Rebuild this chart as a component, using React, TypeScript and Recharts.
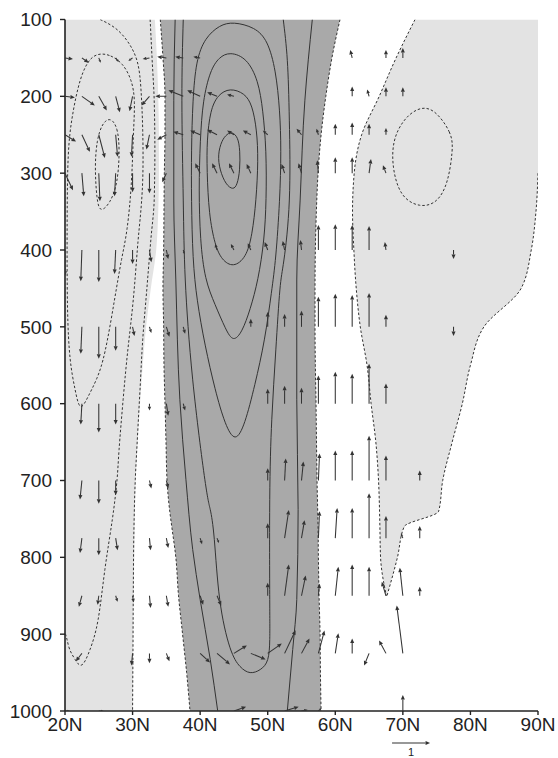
import React from 'react';
import { ComposedChart, Area, Scatter, XAxis, YAxis } from 'recharts';

// ---------- axes ----------
const latTicks = [20, 30, 40, 50, 60, 70, 80, 90];
const latLabels = ['20N', '30N', '40N', '50N', '60N', '70N', '80N', '90N'];
const pTicks = [100, 200, 300, 400, 500, 600, 700, 800, 900, 1000];

// ---------- shaded regions (lat edges at each pressure level) ----------
const levels = [100, 150, 200, 250, 300, 350, 400, 450, 500, 550, 600, 650, 700, 740, 760, 800, 850, 900, 950, 1000];
const westBandEdge = [33.3, 33.6, 33.8, 33.9, 33.9, 33.8, 33.5, 32.7, 32.0, 31.5, 31.1, 30.75, 30.45, 30.35, 30.3, 30.25, 30.15, 30.1, 30.05, 30.02];
const coreWest = [34.1, 34.5, 34.8, 34.8, 34.7, 34.65, 34.6, 34.5, 34.6, 34.65, 34.8, 34.95, 35.1, 35.5, 35.8, 36.4, 36.8, 37.4, 38.0, 38.5];
const coreEast = [60.7, 59.5, 58.6, 57.9, 57.45, 57.2, 57.05, 57.0, 57.0, 57.05, 57.15, 57.22, 57.3, 57.4, 57.45, 57.5, 57.6, 57.75, 57.8, 57.9];
const eastBandWest = [71.8, 69.0, 66.5, 63.9, 62.8, 62.55, 62.75, 63.1, 63.7, 64.7, 65.3, 66.0, 66.4, 66.55, 66.6, 66.7, 67.55, null, null, null];
const eastBandEast = [90, 90, 90, 90, 90, 89.7, 89.0, 87.5, 82.0, 80.0, 78.8, 77.3, 75.9, 75.3, 70.2, 69.2, 67.65, null, null, null];

// ---------- contour lines [lat, p] ----------
const negInner = [[26.7, 227], [27.8, 240], [28.1, 270], [27.8, 313], [26.7, 339], [25.2, 352], [24.7, 335], [24.4, 292], [24.7, 257], [25.5, 235]];
const negMid = [[25.2, 144], [26.7, 146], [28.6, 157], [29.9, 179], [30.4, 205], [30.1, 248], [29.9, 313], [29.2, 378], [28.4, 409], [27.4, 461], [25.9, 539], [24.7, 569], [23.4, 591], [22.2, 612], [21.5, 582], [20.7, 547], [20.3, 482], [20.3, 357], [20.4, 270], [21.0, 227], [22.2, 175], [23.7, 149]];
const negOuter = [[25.2, 100], [27.4, 111], [29.3, 129], [30.7, 155], [31.25, 192], [31.5, 244], [31.5, 309], [31.1, 361], [30.7, 400], [30.1, 465], [29.3, 530], [28.6, 595], [28.0, 660], [27.7, 699], [27.0, 751], [25.9, 816], [24.9, 881], [23.7, 920], [22.5, 940], [21.5, 933], [20.7, 920], [20.3, 907], [20.0, 898]];
const negEdge = [[32.6, 100], [32.9, 153], [33.2, 205], [33.3, 270], [33.2, 335], [32.7, 387], [32.1, 452], [31.5, 517], [31.1, 582], [30.7, 647], [30.4, 699], [30.2, 764], [30.1, 855], [30.05, 933], [30.0, 1000]];
const posC1 = [[44.7, 246], [45.6, 253], [45.9, 270], [45.9, 296], [45.5, 315], [44.9, 322], [43.8, 315], [42.9, 296], [42.6, 276], [43.2, 257], [44.0, 249]];
const posC2 = [[44.4, 189], [46.6, 196], [47.7, 211], [48.4, 244], [48.6, 283], [48.3, 335], [47.7, 381], [46.8, 410], [44.9, 423], [43.2, 413], [42.2, 394], [41.3, 354], [41.0, 296], [41.0, 257], [41.5, 218], [42.6, 198]];
const posC3 = [[44.4, 142], [46.9, 150], [48.6, 179], [49.3, 218], [49.8, 270], [49.8, 335], [49.5, 387], [48.6, 439], [47.4, 478], [46.2, 507], [44.9, 520], [43.8, 504], [42.2, 471], [40.7, 439], [40.0, 387], [39.8, 322], [40.0, 257], [40.4, 205], [41.5, 166], [42.8, 149]];
const posC4 = [[44.9, 103], [48.1, 110], [50.0, 127], [51.2, 166], [51.8, 218], [52.0, 270], [51.8, 335], [51.2, 413], [50.6, 452], [49.6, 517], [48.1, 576], [46.6, 628], [45.2, 651], [43.7, 628], [42.2, 582], [40.7, 524], [39.5, 465], [38.9, 413], [38.7, 335], [38.7, 270], [38.9, 205], [39.4, 153], [40.7, 124], [42.9, 107]];
const posC5 = [[37.5, 100], [37.3, 205], [37.5, 335], [37.8, 439], [38.9, 569], [40.7, 699], [41.5, 738], [42.1, 777], [42.9, 855], [44.4, 917], [45.9, 942], [47.4, 950], [48.9, 946], [50.0, 933], [50.3, 907], [50.3, 855], [50.3, 725], [50.6, 621], [51.2, 530], [51.8, 452], [52.4, 413], [53.2, 335], [53.2, 231], [52.9, 153], [52.3, 100]];
const posC6West = [[36.3, 100], [36.1, 205], [36.1, 335], [36.4, 439], [37.0, 595], [37.9, 699], [38.9, 790], [40.0, 855], [41.5, 933], [42.6, 1000]];
const posC6East = [[56.6, 100], [55.5, 205], [54.8, 335], [54.3, 439], [54.3, 595], [54.5, 738], [54.3, 855], [53.7, 920], [52.9, 1000]];
const eastInner = [[74.5, 214], [77.3, 248], [77.4, 270], [76.7, 313], [75.1, 339], [72.5, 345], [69.6, 331], [68.4, 292], [68.5, 257], [70.0, 231], [72.1, 215]];

// ---------- vectors [lat, u, v] per level (units of reference vector) ----------
const w150 = [[20, 0.21, -0.03], [22.5, 0.18, -0.13], [25, 0.05, -0.13], [27.5, 0.08, -0.11], [30, -0.11, -0.08], [32.5, -0.18, -0.03], [35, -0.24, 0.03], [37.5, -0.21, 0.03], [40, -0.18, 0.03], [62.5, -0.05, 0.21], [67.5, 0, 0.21], [70, 0, 0.26]];
const w200 = [[20, 0.26, -0.03], [22.5, 0.34, -0.24], [25, 0.21, -0.37], [27.5, 0.11, -0.42], [30, -0.08, -0.39], [32.5, -0.21, -0.24], [35, -0.29, 0], [37.5, -0.39, 0.16], [40, -0.34, 0.16], [42.5, -0.26, 0.11], [45, -0.18, 0.05], [62.5, 0, 0.26], [65, -0.05, 0.18], [67.5, 0, 0.24], [70, 0, 0.24]];
const w250 = [[20, 0.29, -0.18], [22.5, 0.21, -0.45], [25, 0.16, -0.61], [27.5, 0.05, -0.58], [30, -0.03, -0.58], [32.5, -0.08, -0.39], [35, -0.24, -0.13], [37.5, -0.26, 0.08], [40, -0.26, 0.11], [42.5, -0.26, 0.13], [45, -0.18, 0.11], [47.5, -0.21, 0.11], [50, -0.13, 0.11], [55, -0.13, 0.16], [57.5, -0.05, 0.16], [60, 0, 0.29], [62.5, 0, 0.32], [65, 0, 0.29], [67.5, 0, 0.18]];
const w300 = [[20, 0.21, -0.45], [22.5, 0.05, -0.61], [25, 0.03, -0.74], [27.5, -0.03, -0.61], [30, 0, -0.5], [32.5, 0, -0.53], [35, -0.11, -0.24], [40, -0.13, 0.26], [42.5, -0.13, 0.26], [45, -0.13, 0.26], [47.5, -0.11, 0.24], [52.5, -0.08, 0.24], [55, -0.08, 0.26], [57.5, -0.03, 0.34], [60, 0, 0.42], [62.5, 0, 0.42], [65, 0.05, 0.37], [67.5, -0.08, 0.21]];
const w400 = [[20, 0, -0.68], [22.5, -0.03, -0.82], [25, 0, -0.84], [27.5, -0.03, -0.63], [30, 0, -0.37], [32.5, 0.05, -0.32], [35, 0.05, -0.24], [37.5, 0.03, -0.11], [42.5, -0.05, 0.16], [45, -0.08, 0.16], [47.5, -0.08, 0.18], [50, -0.08, 0.21], [52.5, -0.05, 0.24], [55, -0.03, 0.26], [57.5, 0, 0.66], [60, 0, 0.68], [62.5, 0, 0.66], [65, 0, 0.63], [67.5, -0.03, 0.21], [77.5, 0, -0.24]];
const w500 = [[22.5, -0.03, -0.71], [25, 0, -0.84], [27.5, 0, -0.63], [30, 0.05, -0.24], [32.5, 0.05, -0.16], [35, 0.08, -0.26], [37.5, 0.05, -0.18], [47.5, 0, 0.21], [50, 0, 0.39], [52.5, 0, 0.34], [55, 0, 0.42], [57.5, 0, 0.79], [60, 0, 0.87], [62.5, 0, 0.84], [65, 0, 0.89], [67.5, 0, 0.32], [77.5, 0, -0.24]];
const w600 = [[22.5, -0.03, -0.55], [25, 0, -0.76], [27.5, 0, -0.55], [32.5, 0, -0.18], [35, 0.05, -0.32], [37.5, 0.05, -0.18], [50, 0, 0.39], [52.5, 0, 0.47], [55, 0, 0.42], [57.5, 0, 0.74], [60, 0, 0.84], [62.5, 0, 0.79], [65, 0, 1.05], [67.5, 0, 0.53]];
const w700 = [[22.5, -0.05, -0.5], [25, 0, -0.61], [27.5, 0, -0.39], [32.5, 0.05, -0.21], [35, 0.05, -0.21], [50, 0, 0.32], [52.5, 0.03, 0.58], [55, 0.05, 0.5], [57.5, 0.03, 0.71], [60, 0, 0.79], [62.5, 0, 0.79], [65, 0, 1.18], [67.5, 0, 0.66], [72.5, 0, 0.26]];
const w775 = [[22.5, -0.05, -0.39], [25, 0, -0.45], [27.5, 0.05, -0.32], [32.5, 0.03, -0.32], [35, 0.05, -0.26], [40, 0.05, -0.16], [42.5, 0.05, -0.13], [50, 0, 0.39], [52.5, 0.11, 0.74], [55, 0.08, 0.47], [57.5, 0.03, 0.71], [60, 0.05, 0.79], [62.5, 0, 0.79], [65, 0, 1.18], [67.5, 0, 0.58], [70, -0.05, 0.13], [72.5, 0, 0.32]];
const w850 = [[22.5, -0.08, -0.29], [25, -0.03, -0.24], [27.5, 0.05, -0.16], [30, 0.03, -0.18], [32.5, 0.03, -0.32], [35, 0.05, -0.29], [40, 0.08, -0.24], [42.5, 0.11, -0.26], [50, 0, 0.34], [52.5, 0.11, 0.82], [55, 0.11, 0.53], [57.5, 0.03, 0.32], [60, 0.08, 0.76], [62.5, 0, 0.82], [65, 0, 0.76], [67.5, -0.11, 0.37], [70, -0.08, 0.74], [72.5, 0, 0.24]];
const w925 = [[22.5, -0.16, -0.21], [30, -0.03, -0.32], [32.5, 0, -0.26], [35, 0.08, -0.21], [40, 0.26, -0.24], [42.5, 0.34, -0.29], [45, 0.34, 0.21], [47.5, 0.39, -0.16], [50, 0.37, 0.26], [52.5, 0.29, 0.61], [55, 0.21, 0.39], [57.5, 0.16, 0.6], [60, 0.08, 0.53], [62.5, 0, 0.39], [65, -0.13, -0.32], [67.5, -0.18, 0.34], [70, -0.16, 1.26]];
const w1000 = [[20, 0.13, 0], [25, 0.13, 0], [45, 0.32, 0.11], [52.5, 0.37, 0.11], [55, 0.16, 0.03], [57.5, 0.08, 0.08], [70, 0, 0.42]];

const vectorRows: [number, number[][]][] = [
  [150, w150], [200, w200], [250, w250], [300, w300], [400, w400], [500, w500],
  [600, w600], [700, w700], [775, w775], [850, w850], [925, w925], [1000, w1000],
];

// ---------- derived tables ----------
const chartData = levels.map((p, i) => ({
  p,
  westBand: [20, westBandEdge[i]],
  core: [coreWest[i], coreEast[i]],
  eastBand: eastBandWest[i] == null ? null : [eastBandWest[i], eastBandEast[i]],
}));

const toPts = (arr: (number | null)[][]) =>
  arr.filter((d) => d[0] != null).map(([lat, p]) => ({ lat, p }));

const coreWestLine = toPts(levels.map((p, i) => [coreWest[i], p]));
const coreEastLine = toPts(levels.map((p, i) => [coreEast[i], p]));
const eastBandWestLine = toPts(levels.map((p, i) => [eastBandWest[i], p]));
const eastBandEastLine = toPts(levels.map((p, i) => [eastBandEast[i], p]).filter((d) => (d[1] as number) >= 300));

const vectorData = vectorRows.flatMap(([p, row]) => row.map(([lat, u, v]) => ({ lat, p, u, v })));

// ---------- styles ----------
const VEC_PX = 38; // px per reference unit
const INK = '#333';
const FONT = '"Liberation Sans", Arial, Helvetica, sans-serif';

const NoPoint = () => <g />;

function drawArrow(x0: number, y0: number, dx: number, dy: number, key?: string) {
  const len = Math.hypot(dx, dy);
  if (len < 0.6) return <g key={key} />;
  const ux = dx / len;
  const uy = dy / len;
  const h = Math.min(4.5, len * 0.55);
  const w = h * 0.45;
  const tx = x0 + dx;
  const ty = y0 + dy;
  const bx = tx - ux * h;
  const by = ty - uy * h;
  return (
    <g key={key}>
      <line x1={x0} y1={y0} x2={bx} y2={by} stroke={INK} strokeWidth={1.05} />
      <polygon points={`${tx},${ty} ${bx - uy * w},${by + ux * w} ${bx + uy * w},${by - ux * w}`} fill={INK} />
    </g>
  );
}

const VectorShape = (props: any) => {
  const { cx, cy, payload } = props;
  if (cx == null || cy == null || !payload) return <g />;
  return drawArrow(cx, cy, payload.u * VEC_PX, -payload.v * VEC_PX);
};

const RefVector = (props: any) => {
  const vb = props.viewBox || { x: 65, y: 711, width: 473, height: 30 };
  const x0 = vb.x + ((68.4 - 20) / 70) * vb.width;
  const y0 = vb.y + 32;
  return (
    <g>
      {drawArrow(x0, y0, VEC_PX, 0)}
      <text x={x0 + VEC_PX / 2} y={y0 + 13} textAnchor="middle" fontSize={11} fontFamily={FONT} fill="#222">1</text>
    </g>
  );
};

const solid = { stroke: INK, strokeWidth: 1 };
const dashed = { stroke: INK, strokeWidth: 1, strokeDasharray: '2.5 2' };

const contour = (data: any[], line: any, joint: string, key: string) => (
  <Scatter key={key} data={data} line={line} lineJointType={joint as any} shape={NoPoint} isAnimationActive={false} />
);

export default function App() {
  return (
    <div style={{ position: 'absolute', left: 0, top: 0, width: 558, height: 758, background: '#fff' }}>
      <ComposedChart
        width={558}
        height={758}
        data={chartData}
        layout="vertical"
        margin={{ top: 19.5, right: 20, bottom: 17, left: 0 }}
      >
        <Area dataKey="westBand" type="monotone" fill="#e3e3e3" fillOpacity={1} stroke="none" isAnimationActive={false} />
        <Area dataKey="core" type="monotone" fill="#a9a9a9" fillOpacity={1} stroke="none" isAnimationActive={false} />
        <Area dataKey="eastBand" type="monotone" fill="#e3e3e3" fillOpacity={1} stroke="none" isAnimationActive={false} />

        {contour(toPts(negInner), dashed, 'basisClosed', 'n1')}
        {contour(toPts(negMid), dashed, 'basisClosed', 'n2')}
        {contour(toPts(negOuter), dashed, 'natural', 'n3')}
        {contour(toPts(negEdge), dashed, 'monotoneY', 'n4')}
        {contour(toPts(eastInner), dashed, 'basisClosed', 'e1')}
        {contour(eastBandWestLine, dashed, 'monotoneY', 'e2')}
        {contour(eastBandEastLine, dashed, 'monotoneY', 'e3')}
        {contour(coreWestLine, dashed, 'monotoneY', 'k1')}
        {contour(coreEastLine, dashed, 'monotoneY', 'k2')}
        {contour(toPts(posC1), solid, 'basisClosed', 'p1')}
        {contour(toPts(posC2), solid, 'basisClosed', 'p2')}
        {contour(toPts(posC3), solid, 'basisClosed', 'p3')}
        {contour(toPts(posC4), solid, 'basisClosed', 'p4')}
        {contour(toPts(posC5), solid, 'natural', 'p5')}
        {contour(toPts(posC6West), solid, 'monotoneY', 'p6')}
        {contour(toPts(posC6East), solid, 'monotoneY', 'p7')}

        <Scatter data={vectorData} shape={VectorShape} isAnimationActive={false} />

        <XAxis
          type="number"
          dataKey="lat"
          domain={[20, 90]}
          ticks={latTicks}
          interval={0}
          allowDataOverflow
          height={30}
          tickSize={4}
          tickMargin={3}
          tickFormatter={(v: number) => latLabels[latTicks.indexOf(v)] ?? ''}
          axisLine={{ stroke: '#222', strokeWidth: 1.6 }}
          tickLine={{ stroke: '#222', strokeWidth: 1.4 }}
          tick={{ fill: '#222', fontSize: 19, fontFamily: FONT }}
          label={<RefVector />}
        />
        <XAxis
          xAxisId="top"
          orientation="top"
          type="number"
          domain={[20, 90]}
          allowDataOverflow
          height={0}
          tick={false}
          tickLine={false}
          axisLine={{ stroke: '#222', strokeWidth: 1.6 }}
        />
        <YAxis
          type="number"
          dataKey="p"
          domain={[100, 1000]}
          ticks={pTicks}
          interval={0}
          allowDataOverflow
          width={65}
          tickSize={5}
          tickMargin={8}
          axisLine={{ stroke: '#222', strokeWidth: 1.6 }}
          tickLine={{ stroke: '#222', strokeWidth: 1.4 }}
          tick={{ fill: '#222', fontSize: 19, fontFamily: FONT }}
        />
        <YAxis
          yAxisId="right"
          orientation="right"
          type="number"
          domain={[100, 1000]}
          allowDataOverflow
          width={0}
          tick={false}
          tickLine={false}
          axisLine={{ stroke: '#222', strokeWidth: 1.6 }}
        />
      </ComposedChart>
    </div>
  );
}
